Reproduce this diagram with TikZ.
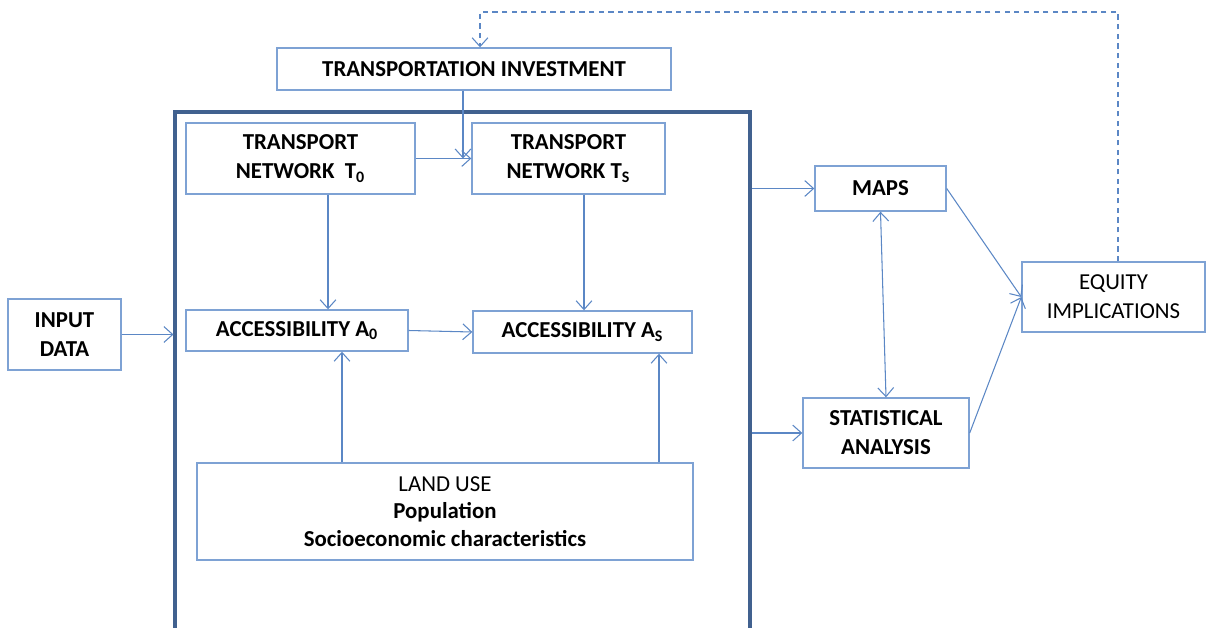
\documentclass[tikz,border=0pt]{standalone}
\usepackage{xcolor}
\usepackage{fontspec}
\setmainfont{Carlito}
\usetikzlibrary{arrows.meta}

\definecolor{boxblue}{HTML}{7EA2D4}
\definecolor{arrowblue}{HTML}{5B87C5}
\definecolor{frameblue}{HTML}{41618F}

\tikzset{
    box/.style={
        draw=boxblue,
        line width=0.8pt,
        inner sep=0pt,
        align=center,
        font=\fontsize{13}{16.5}\selectfont\bfseries\color{black}
    },
    arr/.style={
        draw=arrowblue,
        line width=0.6pt,
        -{Straight Barb[length=5pt,width=9pt]}
    }
}

\begin{document}
\begin{tikzpicture}[x=0.02cm, y=-0.02cm]
            \useasboundingbox (0,0) rectangle (1206,628);

            % outer frame
            \node[
                draw=frameblue,
                line width=1.8pt,
                minimum width=11.5cm,
                minimum height=10.96cm
            ] (frame) at (462.5,386) {};

            % boxes
            \node[box, minimum width=7.88cm, minimum height=0.84cm] (invest) at (474,69) {TRANSPORTATION INVESTMENT};
            \node[box, minimum width=4.58cm, minimum height=1.42cm] (netzero) at (300.5,158.5) {TRANSPORT\\NETWORK\ \ T\textsubscript{0}};
            \node[box, minimum width=3.86cm, minimum height=1.42cm] (netS) at (568.5,158.5) {TRANSPORT\\NETWORK\ T\textsubscript{S}};
            \node[box, minimum width=4.44cm, minimum height=0.82cm] (acczero) at (297,330.5) {ACCESSIBILITY A\textsubscript{0}};
            \node[box, minimum width=4.38cm, minimum height=0.84cm] (accS) at (582.5,332) {ACCESSIBILITY A\textsubscript{S}};
            \node[box, minimum width=9.92cm, minimum height=1.94cm, font=\fontsize{13}{15.5}\selectfont\bfseries] (landuse) at (445,511.5)
                {{\mdseries LAND USE}\\Population\\Socioeconomic characteristics};
            \node[box, minimum width=2.26cm, minimum height=1.42cm] (input) at (64.5,334.5) {INPUT\\DATA};
            \node[box, minimum width=2.62cm, minimum height=0.9cm] (maps) at (880.5,188.5) {MAPS};
            \node[box, minimum width=3.32cm, minimum height=1.4cm] (stats) at (886,433) {STATISTICAL\\ANALYSIS};
            \node[box, minimum width=3.66cm, minimum height=1.4cm, font=\fontsize{13}{16.5}\selectfont] (equity) at (1113.5,297) {EQUITY\\IMPLICATIONS};

            % columns for the vertical arrows
            \coordinate (xa) at (328,0);
            \coordinate (xb) at (584,0);
            \coordinate (xc) at (342,0);
            \coordinate (xd) at (659,0);
            \coordinate (xe) at (463,0);
            \coordinate (xf) at (1118,0);
            \coordinate (fb) at (480,12);

            % connectors
            \draw[arr] (input.east) -- (input.east -| frame.west);
            \draw[arr] (netzero.east) -- (netS.west);
            \draw[arr] (invest.south -| xe) -- (netS.west -| xe);
            \draw[arr] (netzero.south -| xa) -- (acczero.north -| xa);
            \draw[arr] (netS.south -| xb) -- (accS.north -| xb);
            \draw[arr] (acczero.east) -- (accS.west);
            \draw[arr] (landuse.north -| xc) -- (acczero.south -| xc);
            \draw[arr] (landuse.north -| xd) -- (accS.south -| xd);
            \draw[arr] (frame.east |- maps) -- (maps.west);
            \draw[arr] (frame.east |- stats) -- (stats.west);
            \draw[arr, {Straight Barb[length=5pt,width=9pt]}-{Straight Barb[length=5pt,width=9pt]}] (maps.south) -- (stats.north);
            \draw[arr] (maps.east) -- (equity.west);
            \draw[arr] (stats.east) -- (equity.west);
            \draw[arr, dash pattern=on 3pt off 2.5pt] (equity.north -| xf) |- (fb) -- (invest.north -| fb);
        \end{tikzpicture}
\end{document}
